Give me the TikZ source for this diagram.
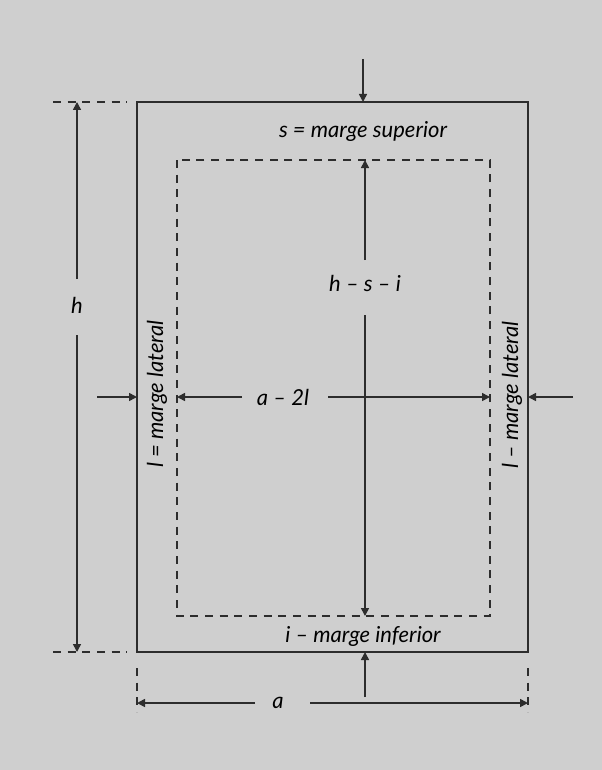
\documentclass[tikz,border=0pt]{standalone}
\usepackage{fontspec}
\setmainfont{Lato}
\usetikzlibrary{arrows.meta, positioning, calc}
\definecolor{paper}{RGB}{207,207,207}
\definecolor{ink}{RGB}{45,45,45}

\begin{document}
\begin{tikzpicture}[x=0.75pt, y=-0.75pt,
  dim/.style={ink, line width=1.2pt, -{Triangle[length=6pt,width=6pt]}},
  frame/.style={ink, line width=1.2pt},
  guide/.style={ink, line width=1.2pt, dash pattern=on 6pt off 5pt},
  lbl/.style={font=\fontsize{16.5}{19}\selectfont\itshape, text=black, inner sep=1pt}]
  \fill[paper] (0,0) rectangle (602,770);
  % page and text block
  \coordinate (pageTL) at (137,102);
  \coordinate (pageBR) at (528,652);
  \coordinate (blockTL) at (177,160);
  \coordinate (blockBR) at (490,616);
  \draw[frame] (pageTL) rectangle (pageBR);
  \draw[guide] (blockTL) rectangle (blockBR);
  % labels
  \node[lbl] (sup) at (363,131) {s = marge superior};
  \node[lbl] (inf) at (363,636) {i – marge inferior};
  \node[lbl] (hsi) at (365,283) {h – s – i};
  \node[lbl] (hgt) at (77,305) {h};
  \node[lbl] (wid) at (278,703) {a};
  \node[lbl] (inw) at (283,397) {a – 2l};
  \node[lbl, rotate=90] (latL) at (157,394) {l = marge lateral};
  \node[lbl, rotate=90] (latR) at (512,395) {l – marge lateral};
  % top and bottom margins
  \coordinate (supA) at (363,59);
  \coordinate (supB) at (363,102);
  \draw[dim] (supA) -- (supB);
  \coordinate (infA) at (365,697);
  \coordinate (infB) at (365,652);
  \draw[dim] (infA) -- (infB);
  % height of the text block
  \coordinate (hsiA) at (365,260);
  \coordinate (hsiB) at (365,160);
  \coordinate (hsiC) at (365,315);
  \coordinate (hsiD) at (365,616);
  \draw[dim] (hsiA) -- (hsiB);
  \draw[dim] (hsiC) -- (hsiD);
  % width of the text block
  \coordinate (inwA) at (242,397);
  \coordinate (inwB) at (177,397);
  \coordinate (inwC) at (328,397);
  \coordinate (inwD) at (490,397);
  \draw[dim] (inwA) -- (inwB);
  \draw[dim] (inwC) -- (inwD);
  % side margins
  \coordinate (latLA) at (97,397);
  \coordinate (latLB) at (137,397);
  \coordinate (latRA) at (573,397);
  \coordinate (latRB) at (528,397);
  \draw[dim] (latLA) -- (latLB);
  \draw[dim] (latRA) -- (latRB);
  % page height
  \coordinate (hgtT) at (53,102);
  \coordinate (hgtTe) at (127,102);
  \coordinate (hgtB) at (53,652);
  \coordinate (hgtBe) at (127,652);
  \draw[guide] (hgtT) -- (hgtTe);
  \draw[guide] (hgtB) -- (hgtBe);
  \coordinate (hgtA) at (77,279);
  \coordinate (hgtC) at (77,335);
  \draw[dim] (hgtA) -- (77,102);
  \draw[dim] (hgtC) -- (77,652);
  % page width
  \coordinate (widL) at (137,668);
  \coordinate (widLe) at (137,712);
  \coordinate (widR) at (528,668);
  \coordinate (widRe) at (528,712);
  \draw[guide] (widL) -- (widLe);
  \draw[guide] (widR) -- (widRe);
  \coordinate (widA) at (255,703);
  \coordinate (widC) at (310,703);
  \draw[dim] (widA) -- (137,703);
  \draw[dim] (widC) -- (528,703);
\end{tikzpicture}
\end{document}
